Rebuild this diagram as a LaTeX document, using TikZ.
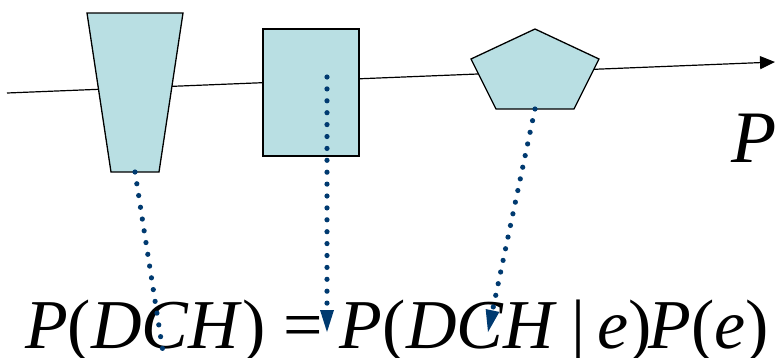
\documentclass[tikz,border=0pt]{standalone}
\usepackage{fontspec}
\setmainfont{Liberation Serif}
\usetikzlibrary{arrows.meta}
\definecolor{shapefill}{HTML}{B9DFE3}
\definecolor{dotblue}{HTML}{003A70}
\tikzset{
  shapebox/.style={draw=black,line width=1.3pt,fill=shapefill},
  dotline/.style={draw=dotblue,line width=5.2pt,line cap=round,dash pattern=on 0pt off 11.9pt},
  dotarrow/.style={dotline,-{Triangle[length=22pt,width=14pt,line width=0pt]}}
}
\begin{document}
\begin{tikzpicture}[x=1pt,y=-1pt]
\useasboundingbox (0,0) rectangle (776,357);
\coordinate (axstart) at (7,93);
\coordinate (axend) at (775,62);
\draw[line width=1.2pt,-{Triangle[length=15pt,width=13pt]}] (axstart) -- (axend);
\node[anchor=base east,inner sep=0pt,font=\fontsize{74}{80}\selectfont\itshape] (plabel) at (777,162) {P};

% the three shapes
\draw[shapebox] (87,13) -- (183,13) -- (159,172) -- (111,172) -- cycle;
\draw[shapebox] (263,29) rectangle (359,156);
\draw[shapebox] (535,29) -- (599,59) -- (574,109) -- (496,109) -- (471,59) -- cycle;

\node[anchor=base west,inner sep=0pt,font=\fontsize{70}{80}\selectfont] (eqn) at (25,348)
  {\textit{P}(\textit{DCH}) = \textit{P}(\textit{DCH}\kern14pt|\kern12pt\textit{e})\kern-3pt\textit{P}(\textit{e})};

\coordinate (trapbot) at (135,172);
\coordinate (rectmid) at (327,77);
\coordinate (pentbot) at (535,109);
\coordinate (eqleft) at (163,352);
\coordinate (eqmid) at (327,332);
\coordinate (eqright) at (488,332);
\draw[dotline] (trapbot) -- (eqleft);
\draw[dotarrow] (rectmid) -- (eqmid);
\draw[dotarrow] (pentbot) -- (eqright);
\end{tikzpicture}
\end{document}
